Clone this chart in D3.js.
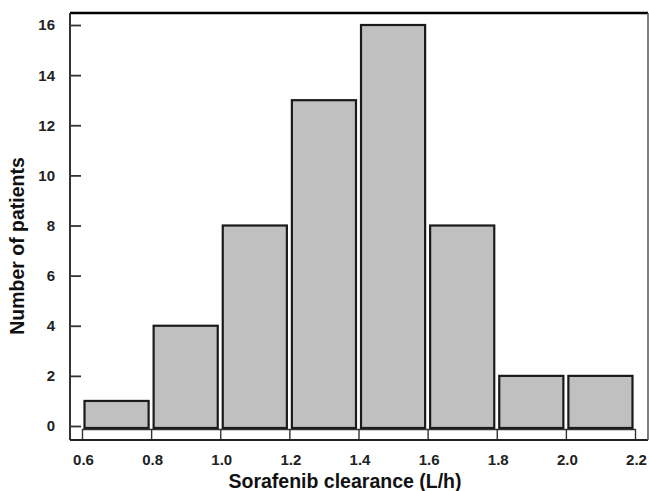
<!DOCTYPE html>
<html><head><meta charset="utf-8">
<script src="https://cdn.jsdelivr.net/npm/d3@7"></script>
<style>body{margin:0;background:#fff}svg{display:block}</style>
</head><body><svg id="c" width="649" height="491"></svg>
<script>
const binStarts = [0.6, 0.8, 1.0, 1.2, 1.4, 1.6, 1.8, 2.0];
const binWidth = 0.2;
const counts = [1, 4, 8, 13, 16, 8, 2, 2];
const xTicks = [0.6, 0.8, 1.0, 1.2, 1.4, 1.6, 1.8, 2.0, 2.2];
const yTicks = [0, 2, 4, 6, 8, 10, 12, 14, 16];

const svg = d3.select("#c");
const frame = {l: 70, t: 13, r: 648, b: 440};
const x = d3.scaleLinear().domain([0.6, 2.2]).range([82, 635]);
const y = d3.scaleLinear().domain([0, 16]).range([426, 25]);
const font = "Arial, 'Liberation Sans', sans-serif";

// bars
svg.append("g").selectAll("rect").data(binStarts).join("rect")
  .attr("x", (d) => x(d) + 2.5)
  .attr("width", (d) => x(d + binWidth) - x(d) - 5)
  .attr("y", (d, i) => y(counts[i]))
  .attr("height", (d, i) => y(0) + 2 - y(counts[i]))
  .attr("fill", "#c0c0c0")
  .attr("stroke", "#1a1a1a")
  .attr("stroke-width", 2.2);

// y axis (inward ticks)
const yAxis = d3.axisRight(y).tickValues(yTicks).tickSize(11).tickFormat("");
const gy = svg.append("g").attr("transform", `translate(${frame.l},0)`).call(yAxis);
gy.select(".domain").remove();
gy.selectAll("line").attr("stroke", "#333").attr("stroke-width", 1.8);
svg.append("g").selectAll("text").data(yTicks).join("text")
  .attr("x", 55).attr("y", (d) => y(d)).attr("dy", "0.36em")
  .attr("text-anchor", "end").attr("font-family", font).attr("font-weight", "bold")
  .attr("font-size", 15).attr("fill", "#222").text((d) => d);

// x axis: line with downward ticks to frame bottom
const xAxis = d3.axisBottom(x).tickValues(xTicks).tickSize(frame.b - 429).tickSizeOuter(0).tickFormat("");
const gx = svg.append("g").attr("transform", `translate(0,429)`).call(xAxis);
gx.select(".domain").attr("stroke", "#333").attr("stroke-width", 1.4);
gx.selectAll("line").attr("stroke", "#333").attr("stroke-width", 1.4);
svg.append("g").selectAll("text").data(xTicks).join("text")
  .attr("x", (d) => x(d) + 1.5).attr("y", 460).attr("dy", "0.36em")
  .attr("text-anchor", "middle").attr("font-family", font).attr("font-weight", "bold")
  .attr("font-size", 15).attr("fill", "#222").text((d) => d3.format(".1f")(d));

// frame
svg.append("line").attr("x1", frame.l).attr("x2", frame.r).attr("y1", frame.t).attr("y2", frame.t)
  .attr("stroke", "#000").attr("stroke-width", 2.5);
svg.append("line").attr("x1", frame.l).attr("x2", frame.l).attr("y1", frame.t).attr("y2", frame.b)
  .attr("stroke", "#333").attr("stroke-width", 2);
svg.append("line").attr("x1", frame.l).attr("x2", frame.r).attr("y1", frame.b).attr("y2", frame.b)
  .attr("stroke", "#222").attr("stroke-width", 2.2);
svg.append("line").attr("x1", frame.r).attr("x2", frame.r).attr("y1", frame.t).attr("y2", frame.b)
  .attr("stroke", "#555").attr("stroke-width", 1.5);

// titles
svg.append("text").attr("x", 345).attr("y", 488)
  .attr("text-anchor", "middle").attr("font-family", font).attr("font-weight", "bold")
  .attr("font-size", 19.5).attr("fill", "#111").text("Sorafenib clearance (L/h)");
svg.append("text").attr("transform", "translate(24,246) rotate(-90)")
  .attr("text-anchor", "middle").attr("font-family", font).attr("font-weight", "bold")
  .attr("font-size", 19.5).attr("fill", "#111").text("Number of patients");
</script></body></html>
